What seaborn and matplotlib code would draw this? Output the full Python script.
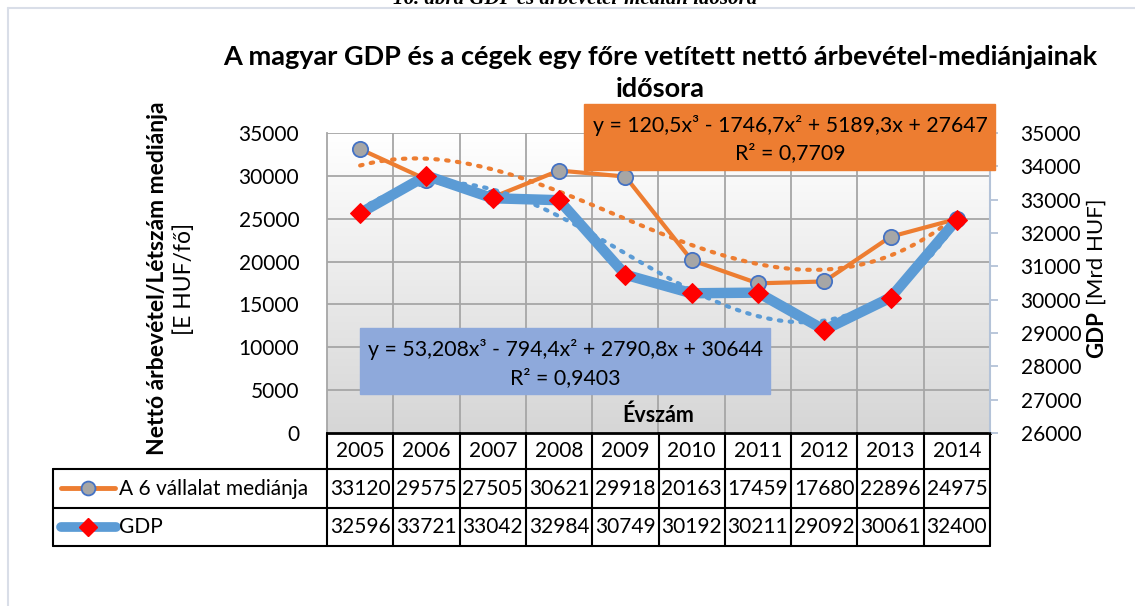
import numpy as np
import matplotlib
matplotlib.use("Agg")
import matplotlib.pyplot as plt
from matplotlib.colors import LinearSegmentedColormap
from matplotlib.patches import Rectangle
from matplotlib.lines import Line2D
import seaborn as sns

# --- adatok ---
evek = ['2005', '2006', '2007', '2008', '2009', '2010', '2011', '2012', '2013', '2014']
median = [33120, 29575, 27505, 30621, 29918, 20163, 17459, 17680, 22896, 24975]
gdp = [32596, 33721, 33042, 32984, 30749, 30192, 30211, 29092, 30061, 32400]
nev_median = 'A 6 vállalat mediánja'
nev_gdp = 'GDP'
egyenlet_median = 'y = 120,5x³ - 1746,7x² + 5189,3x + 27647'
r2_median = 'R² = 0,7709'
egyenlet_gdp = 'y = 53,208x³ - 794,4x² + 2790,8x + 30644'
r2_gdp = 'R² = 0,9403'

NARANCS = '#ED7D31'
KEK = '#5B9BD5'

sns.set_theme(style='white')
plt.rcParams['font.family'] = ['Lato', 'DejaVu Sans']
plt.rcParams['text.color'] = '#000000'

W, H = 1135, 606
fig = plt.figure(figsize=(W / 100, H / 100), dpi=100)


def px(x, y):
    return x / W, 1 - y / H


# keret és felirat
fig.add_artist(Line2D([8 / W, 8 / W], [0, 1 - 8 / H], color='#D9DEE8', lw=1.5))
fig.add_artist(Line2D([8 / W, 1], [1 - 8 / H, 1 - 8 / H], color='#D9DEE8', lw=1.5))
fig.text(*px(575, 4), '16. ábra GDP és árbevétel-medián idősora', ha='center', va='baseline',
         family='Liberation Serif', style='italic', weight='bold', fontsize=15)

L, R, T, B = 327, 990, 133, 433
ax = fig.add_axes([L / W, 1 - B / H, (R - L) / W, (B - T) / H])
xpos = np.arange(len(evek))

# háttér színátmenet
cmap = LinearSegmentedColormap.from_list('g', ['#FFFFFF', '#D6D6D6'])
ax.imshow(np.linspace(0, 1, 200).reshape(-1, 1), extent=[0, 1, 0, 1], transform=ax.transAxes,
          cmap=cmap, aspect='auto', zorder=0)

sns.lineplot(x=xpos, y=median, ax=ax, color=NARANCS, lw=3, marker='o', markersize=11,
             markerfacecolor='#A6A6A6', markeredgecolor='#4472C4', markeredgewidth=1.3, zorder=4)
sns.regplot(x=xpos, y=median, order=3, ci=None, scatter=False, ax=ax,
            line_kws=dict(color=NARANCS, lw=3, ls=(0, (0.6, 2.0)), dash_capstyle='round', zorder=3))

ax.set_xlim(-0.5, 9.5)
ax.set_ylim(0, 35000)
ax.set_yticks(range(0, 35001, 5000))
ax.set_xticks([])
ax.set_xlabel('')
ax.set_ylabel('')
for yv in range(5000, 35001, 5000):
    ax.axhline(yv, color='#A6A6A6', lw=1.3, zorder=1)
for xv in np.arange(0.5, 9.5, 1):
    ax.axvline(xv, color='#A6A6A6', lw=1.3, zorder=1)
ax.tick_params(axis='y', length=0, pad=20, labelsize=15, labelcolor='#000000')
for s in ['top', 'right']:
    ax.spines[s].set_visible(False)
ax.spines['left'].set_color('#A6A6A6')
ax.spines['left'].set_linewidth(1.3)
ax.spines['bottom'].set_color('#000000')
ax.spines['bottom'].set_linewidth(2)
ax.text(0.5, 0.06, 'Évszám', transform=ax.transAxes, ha='center', va='center',
        fontsize=15.5, weight='bold')

ax2 = ax.twinx()
sns.lineplot(x=xpos, y=gdp, ax=ax2, color=KEK, lw=7.5, marker='D', markersize=10,
             markerfacecolor='#FF0000', markeredgecolor='#FF0000', zorder=4)
sns.regplot(x=xpos, y=gdp, order=3, ci=None, scatter=False, ax=ax2,
            line_kws=dict(color=KEK, lw=3, ls=(0, (0.6, 2.0)), dash_capstyle='round', zorder=3))
ax2.set_ylim(26000, 35000)
ax2.set_yticks(range(26000, 35001, 1000))
ax2.set_xlim(-0.5, 9.5)
ax2.set_ylabel('')
ax2.tick_params(axis='y', length=6, width=1.3, color='#B4C3D8', pad=16, labelsize=15,
                labelcolor='#000000')
for s in ['top', 'left', 'bottom']:
    ax2.spines[s].set_visible(False)
ax2.spines['right'].set_color('#B4C3D8')
ax2.spines['right'].set_linewidth(1.5)

# cím és tengelyfeliratok
fig.text(*px(660, 57), 'A magyar GDP és a cégek egy főre vetített nettó árbevétel-mediánjainak',
         ha='center', va='center', fontsize=19.5, weight='bold')
fig.text(*px(660, 89), 'idősora', ha='center', va='center', fontsize=19.5, weight='bold')
fig.text(*px(157, 278), 'Nettó árbevétel/Létszám mediánja', rotation=90, ha='center', va='center',
         fontsize=16.5, weight='bold')
fig.text(*px(184, 279), '[E HUF/fő]', rotation=90, ha='center', va='center', fontsize=16.5)

# jobb oldali tengelycím: félkövér "GDP" + normál "[Mrd HUF]"
t_gdp = fig.text(*px(1097, 358), 'GDP', rotation=90, ha='center', va='bottom', fontsize=16,
                 weight='bold')
fig.canvas.draw()
h_gdp = t_gdp.get_window_extent().height
fig.text(*px(1097, 358 - h_gdp - 6), '[Mrd HUF]', rotation=90, ha='center', va='bottom', fontsize=16)

# trendvonal-egyenletek
fig.add_artist(Rectangle(px(584, 170), (995 - 584) / W, (170 - 104) / H, color=NARANCS, zorder=5))
fig.text(*px(790, 125), egyenlet_median, ha='center', va='center', fontsize=15.3, zorder=6)
fig.text(*px(790, 153), r2_median, ha='center', va='center', fontsize=15.3, zorder=6)
fig.add_artist(Rectangle(px(360, 394), (770 - 360) / W, (394 - 328) / H, color='#8EA9DB', zorder=5))
fig.text(*px(565, 349), egyenlet_gdp, ha='center', va='center', fontsize=15.3, zorder=6)
fig.text(*px(565, 378), r2_gdp, ha='center', va='center', fontsize=15.3, zorder=6)

# adattábla
cw = (R - L) / len(evek)
sorok = [433, 469, 508, 546]
fekete = dict(color='#000000', lw=1.5)
for y in sorok[1:]:
    fig.add_artist(Line2D([53 / W, R / W], [1 - y / H] * 2, **fekete))
fig.add_artist(Line2D([53 / W, 53 / W], [1 - 469 / H, 1 - 546 / H], **fekete))
for i in range(len(evek) + 1):
    xx = (L + i * cw) / W
    fig.add_artist(Line2D([xx, xx], [1 - 433 / H, 1 - 546 / H], **fekete))
for i, ev in enumerate(evek):
    cx = L + (i + 0.5) * cw
    fig.text(*px(cx, 451), ev, ha='center', va='center', fontsize=15)
    fig.text(*px(cx, 489), str(median[i]), ha='center', va='center', fontsize=15)
    fig.text(*px(cx, 527), str(gdp[i]), ha='center', va='center', fontsize=15)

fig.add_artist(Line2D([61 / W, 115 / W], [1 - 488 / H] * 2, color=NARANCS, lw=3.5, solid_capstyle='round'))
fig.add_artist(Line2D([88 / W], [1 - 488 / H], marker='o', markersize=10, markerfacecolor='#A6A6A6',
                      markeredgecolor='#4472C4', markeredgewidth=1.3))
fig.add_artist(Line2D([61 / W, 116 / W], [1 - 527 / H] * 2, color=KEK, lw=7, solid_capstyle='round'))
fig.add_artist(Line2D([88 / W], [1 - 527 / H], marker='D', markersize=9, markerfacecolor='#FF0000',
                      markeredgecolor='#FF0000'))
fig.text(*px(119, 489), nev_median, ha='left', va='center', fontsize=15)
fig.text(*px(119, 527), nev_gdp, ha='left', va='center', fontsize=15)

fig.savefig('out.png', dpi=100)
